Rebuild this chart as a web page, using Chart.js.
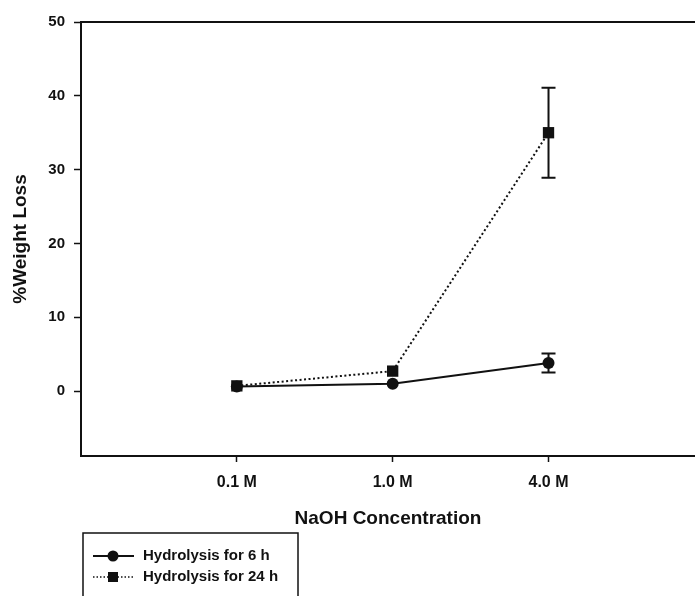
<!DOCTYPE html>
<html>
<head>
<meta charset="utf-8">
<script src="https://cdn.jsdelivr.net/npm/chart.js@4.4.0/dist/chart.umd.min.js"></script>
<style>
	html, body { margin: 0; padding: 0; background: #fff; }
	canvas { display: block; }
</style>
</head>
<body>
<canvas id="chart" width="695" height="596"></canvas>
<script>
const concentrations = ["0.1 M", "1.0 M", "4.0 M"];
const positions = [1, 2, 3];

const labels6h = "Hydrolysis for 6 h";
const values6h = [0.6, 1.0, 3.8];
const errors6h = [0, 0, 1.3];

const labels24h = "Hydrolysis for 24 h";
const values24h = [0.7, 2.7, 35.0];
const errors24h = [0, 0, 6.1];

const yTicks = [0, 10, 20, 30, 40, 50];

const ink = "#111";
const fontFamily = "'Liberation Sans', Arial, sans-serif";

function toPoints(values, errors) {
	return values.map((y, i) => ({ x: positions[i], y: y, err: errors[i] }));
}

// vertical error bars with caps, drawn over each dataset
const errorBars = {
	id: "errorBars",
	afterDatasetsDraw(chart) {
		const ctx = chart.ctx;
		const yScale = chart.scales.y;
		const xScale = chart.scales.x;
		ctx.save();
		ctx.strokeStyle = ink;
		ctx.lineWidth = 2;
		chart.data.datasets.forEach((ds) => {
			ds.data.forEach((p) => {
				if (!p.err) return;
				const x = xScale.getPixelForValue(p.x);
				const top = yScale.getPixelForValue(p.y + p.err);
				const bottom = yScale.getPixelForValue(p.y - p.err);
				ctx.beginPath();
				ctx.moveTo(x, top);
				ctx.lineTo(x, bottom);
				ctx.moveTo(x - 7, top);
				ctx.lineTo(x + 7, top);
				ctx.moveTo(x - 7, bottom);
				ctx.lineTo(x + 7, bottom);
				ctx.stroke();
			});
		});
		ctx.restore();
	},
};

// top frame line and the boxed legend under the axis title
const frameAndLegend = {
	id: "frameAndLegend",
	afterDraw(chart) {
		const ctx = chart.ctx;
		const area = chart.chartArea;
		ctx.save();
		ctx.strokeStyle = ink;
		ctx.lineWidth = 2;
		ctx.beginPath();
		ctx.moveTo(area.left - 1, area.top);
		ctx.lineTo(area.right, area.top);
		ctx.stroke();

		ctx.lineWidth = 1.5;
		ctx.strokeRect(83, 533, 215, 80);

		const rows = [556, 577];
		chart.data.datasets.forEach((ds, i) => {
			const y = rows[i];
			ctx.strokeStyle = ink;
			ctx.lineWidth = ds.borderDash.length ? 1.5 : 2;
			ctx.setLineDash(ds.borderDash.length ? [1.5, 2] : []);
			ctx.beginPath();
			ctx.moveTo(93, y);
			ctx.lineTo(134, y);
			ctx.stroke();
			ctx.setLineDash([]);
			ctx.fillStyle = ink;
			if (ds.pointStyle === "rect") {
				ctx.fillRect(108, y - 5, 10, 10);
			} else {
				ctx.beginPath();
				ctx.arc(113, y, 5.5, 0, Math.PI * 2);
				ctx.fill();
			}
			ctx.font = "bold 15px " + fontFamily;
			ctx.textBaseline = "middle";
			ctx.textAlign = "left";
			ctx.fillText(ds.label, 143, y);
		});
		ctx.restore();
	},
};

const ctx = document.getElementById("chart").getContext("2d");

const chartInstance = new Chart(ctx, {
	type: "line",
	data: {
		datasets: [
			{
				label: labels6h,
				data: toPoints(values6h, errors6h),
				borderColor: ink,
				borderWidth: 2,
				borderDash: [],
				pointStyle: "circle",
				pointRadius: 6,
				pointBackgroundColor: ink,
				pointBorderWidth: 0,
				tension: 0,
				fill: false,
			},
			{
				label: labels24h,
				data: toPoints(values24h, errors24h),
				borderColor: ink,
				borderWidth: 2,
				borderDash: [2, 2.5],
				pointStyle: "rect",
				pointRadius: 8,
				pointBackgroundColor: ink,
				pointBorderWidth: 0,
				tension: 0,
				fill: false,
			},
		],
	},
	options: {
		responsive: false,
		animation: false,
		layout: {
			autoPadding: false,
			padding: { top: 22, right: 0, bottom: 0, left: 0 },
		},
		plugins: {
			legend: { display: false },
			tooltip: { enabled: false },
		},
		scales: {
			x: {
				type: "linear",
				min: 0,
				max: 3.94,
				afterFit: (scale) => {
					scale.height = 140;
				},
				afterBuildTicks: (scale) => {
					scale.ticks = positions.map((v) => ({ value: v }));
				},
				ticks: {
					color: ink,
					padding: 11,
					maxRotation: 0,
					font: { family: fontFamily, size: 16, weight: "bold" },
					callback: (value) => concentrations[positions.indexOf(value)],
				},
				grid: {
					drawOnChartArea: false,
					tickLength: 6,
					tickWidth: 1.5,
					tickColor: ink,
				},
				border: { color: ink, width: 2 },
				title: {
					display: true,
					text: "NaOH Concentration",
					color: ink,
					padding: { top: 0, bottom: 66 },
					font: { family: fontFamily, size: 19, weight: "bold" },
				},
			},
			y: {
				min: -8.8,
				max: 50,
				afterFit: (scale) => {
					scale.width = 81;
				},
				afterBuildTicks: (scale) => {
					scale.ticks = yTicks.map((v) => ({ value: v }));
				},
				ticks: {
					color: ink,
					padding: 9,
					font: { family: fontFamily, size: 15, weight: "bold" },
				},
				grid: {
					drawOnChartArea: false,
					tickLength: 7,
					tickWidth: 1.5,
					tickColor: ink,
				},
				border: { color: ink, width: 2 },
				title: {
					display: true,
					text: "%Weight Loss",
					color: ink,
					padding: { top: 9, bottom: 0 },
					font: { family: fontFamily, size: 19, weight: "bold" },
				},
			},
		},
	},
	plugins: [errorBars, frameAndLegend],
});
</script>
</body>
</html>
